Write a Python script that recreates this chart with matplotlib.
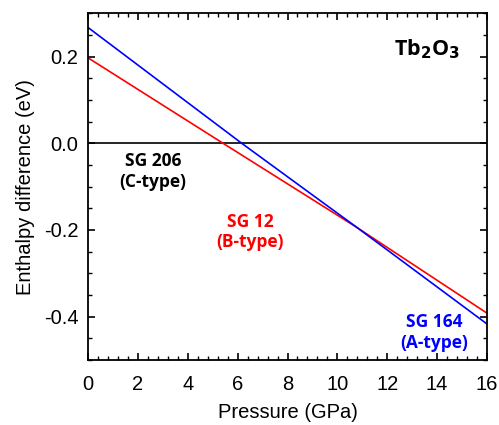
import matplotlib
matplotlib.use("Agg")
import matplotlib.pyplot as plt
from matplotlib.ticker import MultipleLocator

# enthalpy difference relative to SG 206 (C-type)
P_B = [0.0, 5.41, 10.8, 16.0]
B_TYPE = [0.197, 0.0, -0.195, -0.392]    # SG 12
P_A = [0.0, 6.16, 10.8, 16.0]
A_TYPE = [0.267, 0.0, -0.195, -0.417]    # SG 164

plt.rcParams["font.family"] = ["Liberation Sans", "DejaVu Sans"]

fig = plt.figure(figsize=(4.99, 4.25), dpi=100)
ax = fig.add_axes([0.1764, 0.153, 0.7996, 0.816])

ax.axhline(0.0, color="black", lw=1.2)
ax.plot(P_B, B_TYPE, color="#ff0000", lw=1.2)
ax.plot(P_A, A_TYPE, color="#0000ff", lw=1.2)

ax.set_xlim(0, 16)
ax.set_ylim(-0.5, 0.3)
ax.xaxis.set_major_locator(MultipleLocator(2))
ax.xaxis.set_minor_locator(MultipleLocator(0.4))
ax.yaxis.set_major_locator(MultipleLocator(0.2))
ax.yaxis.set_minor_locator(MultipleLocator(0.05))
ax.tick_params(which="both", direction="in", top=True, right=True, labelsize=14.5)
ax.tick_params(which="major", length=5, width=1.2)
ax.tick_params(which="minor", length=3, width=1.0)
ax.tick_params(axis="x", pad=11)
ax.tick_params(axis="y", pad=7)
for s in ax.spines.values():
    s.set_linewidth(1.3)

ax.set_yticks([-0.4, -0.2, 0.0, 0.2])
ax.set_yticklabels(["-0.4", "-0.2", "0.0", "0.2"])

ax.set_xlabel("Pressure (GPa)", fontsize=14.5, labelpad=6)
ax.set_ylabel("Enthalpy difference (eV)", fontsize=14.5, labelpad=6)

lab = dict(family=["Open Sans", "DejaVu Sans"], fontweight="bold", fontsize=12.5,
           ha="center", va="center", linespacing=1.2)
ax.text(2.6, -0.066, "SG 206\n(C-type)", color="black", **lab)
ax.text(6.5, -0.205, "SG 12\n(B-type)", color="#ff0000", **lab)
ax.text(13.9, -0.437, "SG 164\n(A-type)", color="#0000ff", **lab)
ax.text(13.6, 0.218, r"Tb$_\mathbf{2}$O$_\mathbf{3}$", color="black",
        family=["Open Sans", "DejaVu Sans"], fontweight="bold", fontsize=15.5,
        ha="center", va="center")

fig.savefig("out.png", dpi=100)
